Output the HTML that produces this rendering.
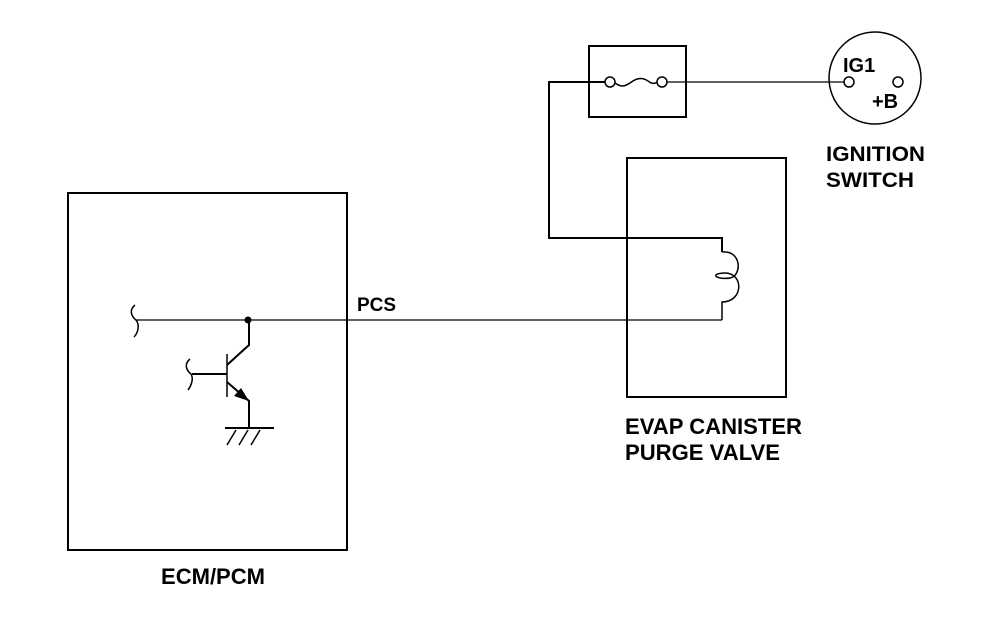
<!DOCTYPE html>
<html><head><meta charset="utf-8"><style>
html,body{margin:0;padding:0;background:#fff}
svg{display:block}
text{font-family:"Liberation Sans",Arial,sans-serif;font-weight:bold;fill:#000}
</style></head><body>
<svg width="992" height="626" viewBox="0 0 992 626" xmlns="http://www.w3.org/2000/svg">
<g fill="none" stroke="#000">
<rect x="68" y="193" width="279" height="357" stroke-width="2"/>
<rect x="627" y="158" width="159" height="239" stroke-width="2"/>
<rect x="589" y="46" width="97" height="71" stroke-width="2"/>
<circle cx="875" cy="78" r="46" stroke-width="1.5"/>
<circle cx="849" cy="82" r="5" stroke-width="1.5"/>
<circle cx="898" cy="82" r="5" stroke-width="1.5"/>
<circle cx="610" cy="82" r="5" stroke-width="1.5"/>
<circle cx="662" cy="82" r="5" stroke-width="1.5"/>
<path d="M615,83 C622,88 625,86 630,83 C636,78 642,77 648,81 C652,84 655,84 657,82" stroke-width="1.5"/>
<line x1="667" y1="82" x2="844" y2="82" stroke-width="1.2"/>
<path d="M605,82 H549 V238 H722 V252" stroke-width="2"/>
<path d="M722,252 C742,250 742,276 730,278 C718,280 708,274 724,273 C744,272 744,302 722,302 V320" stroke-width="1.5"/>
<line x1="136" y1="320" x2="722" y2="320" stroke-width="1.2"/>
<path d="M135,305 C129,310 131,316 136,320 C140,325 138,333 134,337" stroke-width="1.5"/>
<circle cx="248" cy="320" r="3.5" fill="#000" stroke="none"/>
<path d="M249,320 V345 L227,365" stroke-width="2"/>
<line x1="227" y1="354" x2="227" y2="397" stroke-width="1.5"/>
<line x1="192" y1="374" x2="227" y2="374" stroke-width="2"/>
<path d="M190,359 C184,364 186,370 191,374 C194,379 191,386 188,390" stroke-width="1.5"/>
<path d="M227,382 L249,401 V428" stroke-width="2"/>
<polygon points="249,401 234,396 241,388" fill="#000" stroke="none"/>
<line x1="225" y1="428" x2="274" y2="428" stroke-width="2"/>
<path d="M236,430 L227,445 M248,430 L239,445 M260,430 L251,445" stroke-width="1.5"/>
</g>
<text x="357" y="311" font-size="19">PCS</text>
<text x="161" y="584" font-size="22" textLength="104" lengthAdjust="spacingAndGlyphs">ECM/PCM</text>
<text x="625" y="434" font-size="22" textLength="177" lengthAdjust="spacingAndGlyphs">EVAP CANISTER</text>
<text x="625" y="460" font-size="22" textLength="155" lengthAdjust="spacingAndGlyphs">PURGE VALVE</text>
<text x="826" y="161" font-size="21" textLength="99" lengthAdjust="spacingAndGlyphs">IGNITION</text>
<text x="826" y="187" font-size="21" textLength="88" lengthAdjust="spacingAndGlyphs">SWITCH</text>
<text x="843" y="72" font-size="20">IG1</text>
<text x="872" y="108" font-size="20">+B</text>
</svg>
</body></html>
